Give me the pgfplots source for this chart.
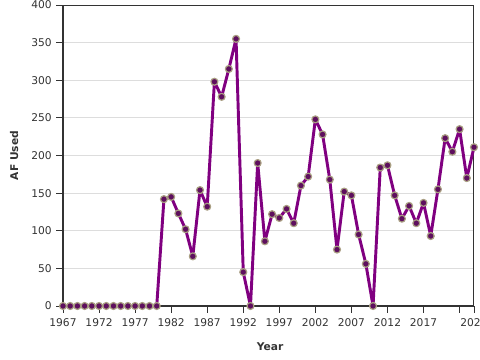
\documentclass[border=0pt]{standalone}
\usepackage{pgfplots}
\pgfplotsset{compat=1.18}
\usepackage{fontspec}
\setmainfont{DejaVu Sans}
\definecolor{lineP}{HTML}{800080}
\definecolor{markF}{HTML}{5E0F5E}
\definecolor{markD}{HTML}{A99F82}
\definecolor{axC}{HTML}{333333}
\definecolor{gridC}{HTML}{DDDDDD}
\definecolor{txtC}{HTML}{333333}
\begin{document}
\begin{tikzpicture}[x=1pt,y=1pt]
\begin{axis}[
  at={(0,0)}, anchor=south west,
  scale only axis,
  width=308.25pt, height=225.75pt,
  xmin=1967, xmax=2024, ymin=0, ymax=400,
  xtick={1967,1972,1977,1982,1987,1992,1997,2002,2007,2012,2017,2022,2024},
  xticklabels={1967,1972,1977,1982,1987,1992,1997,2002,2007,2012,2017,,2024},
  ytick={0,50,100,150,200,250,300,350,400},
  ymajorgrids, grid style={gridC, line width=0.75pt},
  tick align=outside, major tick length=5pt,
  xtick pos=bottom, ytick pos=left,
  tick style={axC, line width=0.6pt},
  axis line style={axC, line width=0.75pt},
  /pgf/number format/assume math mode=true,
  /pgf/number format/1000 sep={},
  ticklabel style={font=\fontsize{8}{9}\selectfont, text=txtC},
  xticklabel style={yshift=-1pt},
  clip=false,
  xlabel={Year}, ylabel={AF Used},
  xlabel style={font=\bfseries\fontsize{8}{9}\selectfont, text=txtC, at={(axis description cs:0.504,-0.136)}, anchor=center},
  ylabel style={font=\bfseries\fontsize{8}{9}\selectfont, text=txtC, at={(axis description cs:-0.119,0.5)}, anchor=center, rotate=0},
]
\draw[axC, line width=1.5pt] (rel axis cs:0,1) -- (rel axis cs:0,0) -- (rel axis cs:1,0);
\addplot[lineP, line width=2.2pt, line join=round,
  mark=*, mark size=2.6pt, mark options={fill=markF, draw=markD, line width=0.9pt}]
coordinates {
(1967,0)(1968,0)(1969,0)(1970,0)(1971,0)(1972,0)(1973,0)(1974,0)(1975,0)(1976,0)
(1977,0)(1978,0)(1979,0)(1980,0)
(1981,142)(1982,145)(1983,123)(1984,102)(1985,66)(1986,154)(1987,132)(1988,298)
(1989,278)(1990,315)(1991,355)(1992,45)(1993,0)(1994,190)(1995,86)(1996,122)
(1997,117)(1998,129)(1999,110)(2000,160)(2001,172)(2002,248)(2003,228)(2004,168)
(2005,75)(2006,152)(2007,147)(2008,95)(2009,56)(2010,0)(2011,184)(2012,187)
(2013,147)(2014,116)(2015,133)(2016,110)(2017,137)(2018,93)(2019,155)(2020,223)
(2021,205)(2022,235)(2023,170)(2024,211)
};
\end{axis}
\pgfresetboundingbox
\useasboundingbox (-47.25pt,-40.5pt) rectangle (312.75pt,229.5pt);
\end{tikzpicture}
\end{document}
